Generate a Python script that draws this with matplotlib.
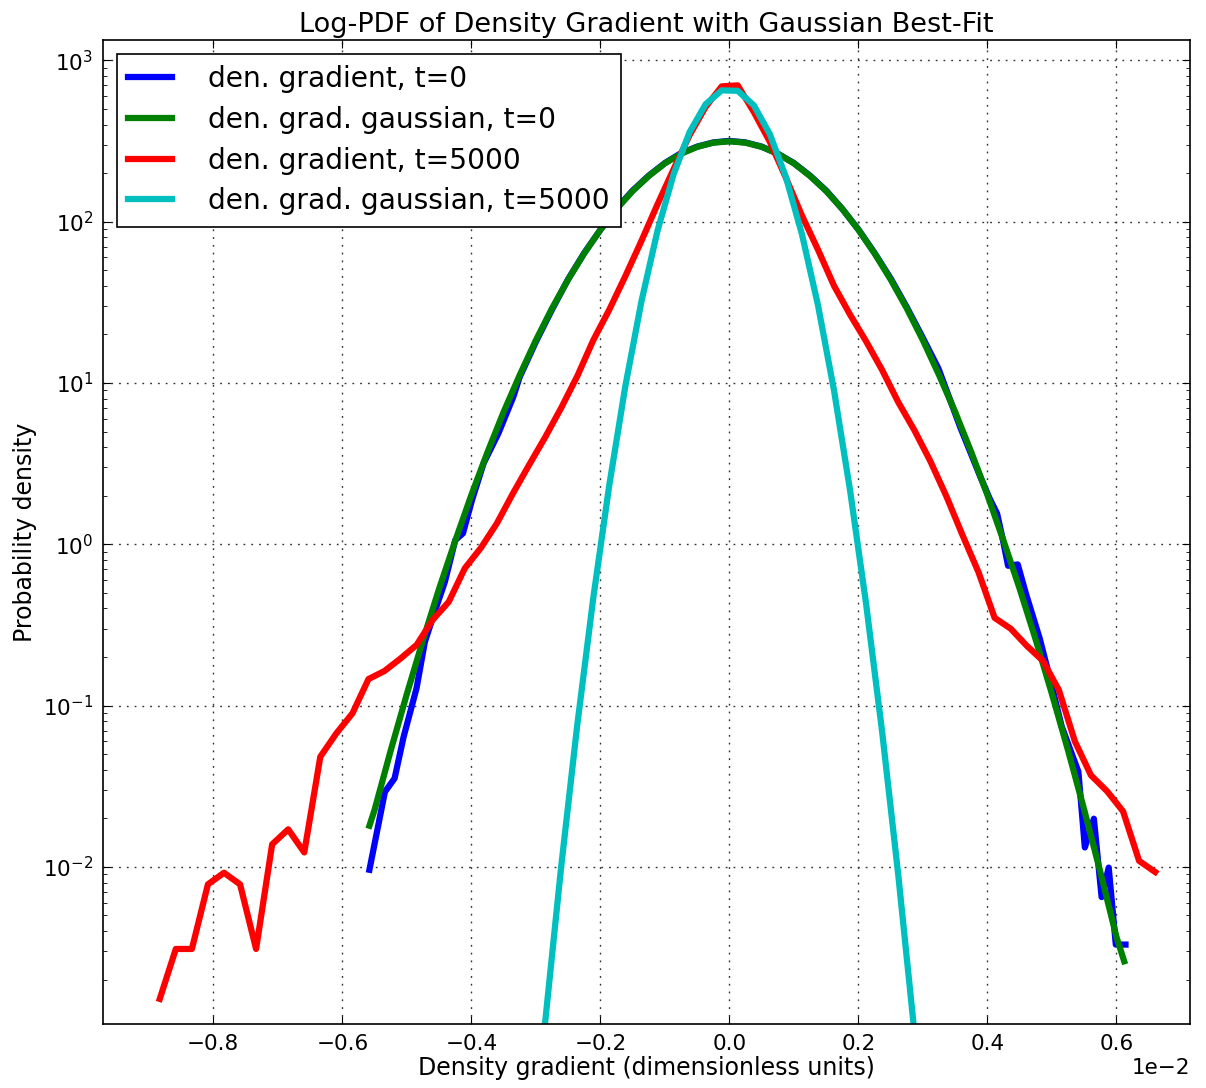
import numpy as np
import matplotlib
matplotlib.use("Agg")
import matplotlib.pyplot as plt

# x values below are in units of 1e-2 (the axis offset)
XSCALE = 1e-2

# den. gradient, t=0 (histogram)
blue_x = [-0.558, -0.534, -0.519, -0.505, -0.485, -0.472, -0.456, -0.441, -0.425,
          -0.413, -0.399, -0.381, -0.358, -0.335, -0.325, -0.30, -0.275, -0.25,
          -0.225, -0.20, -0.175, -0.15, -0.125, -0.10, -0.075, -0.05, -0.025, 0.0,
          0.025, 0.05, 0.075, 0.10, 0.125, 0.15, 0.175, 0.20, 0.225, 0.25, 0.275,
          0.30, 0.324, 0.358, 0.389, 0.404, 0.415, 0.423, 0.432, 0.447, 0.460,
          0.481, 0.497, 0.515, 0.541, 0.551, 0.565, 0.577, 0.588, 0.599, 0.614]
blue_y = [0.0096, 0.0292, 0.0354, 0.064, 0.128, 0.249, 0.39, 0.586, 1.06,
          1.17, 1.88, 3.18, 4.88, 8.2, 10.9, 18.0, 28.5, 44.0,
          64.0, 89.0, 121.0, 156.0, 193.0, 231.0, 266.0, 292.0, 310.0, 317.0,
          310.0, 292.0, 264.0, 231.0, 193.0, 156.0, 120.0, 89.5, 64.0, 44.5, 29.5,
          19.0, 12.3, 5.3, 2.62, 1.9, 1.55, 1.11, 0.736, 0.75, 0.489,
          0.261, 0.147, 0.0746, 0.0389, 0.0132, 0.0199, 0.0065, 0.0099, 0.0033, 0.0033]

# den. grad. gaussian, t=0
green_x = [-0.558, -0.550, -0.525, -0.500, -0.475, -0.450, -0.425, -0.400, -0.375,
           -0.350, -0.325, -0.300, -0.275, -0.250, -0.225, -0.200, -0.175, -0.150,
           -0.125, -0.100, -0.075, -0.050, -0.025, 0.0, 0.025, 0.050, 0.075, 0.100,
           0.125, 0.150, 0.175, 0.200, 0.225, 0.250, 0.275, 0.300, 0.325, 0.350,
           0.375, 0.400, 0.425, 0.450, 0.475, 0.500, 0.525, 0.550, 0.575, 0.600,
           0.612]
green_y = [0.018, 0.0226, 0.0527, 0.118, 0.255, 0.530, 1.05, 2.02, 3.72,
           6.61, 11.2, 18.4, 29.0, 43.8, 63.7, 89.1, 120.0, 155.0,
           192.0, 230.0, 264.0, 291.0, 309.0, 315.0, 309.0, 291.0, 264.0, 230.0,
           192.0, 155.0, 120.0, 89.1, 63.7, 43.8, 29.0, 18.4, 11.2, 6.61,
           3.72, 2.02, 1.05, 0.530, 0.255, 0.118, 0.0527, 0.0226, 0.0093, 0.00368,
           0.0026]

# den. gradient, t=5000 (63 evenly spaced bins)
red_x = np.linspace(-0.883, 0.660, 63)
red_y = [1.52e-3, 3.10e-3, 3.10e-3, 7.80e-3, 9.2e-3, 7.80e-3, 3.10e-3, 0.0138,
         0.0171, 0.0123, 0.0482, 0.0673, 0.0895, 0.146, 0.164, 0.196, 0.238,
         0.34, 0.44, 0.71, 0.95, 1.35, 2.07, 3.1, 4.6, 7.0, 11.0, 18.4, 28.5,
         46.0, 76.0, 128.0, 211.0, 344.0, 515.0, 690.0, 700.0, 479.0, 313.0,
         187.0, 109.0, 67.0, 40.0, 26.5, 18.1, 12.0, 7.6, 5.1, 3.27, 1.98, 1.14,
         0.67, 0.35, 0.30, 0.235, 0.19, 0.125, 0.06, 0.037, 0.0295, 0.0221,
         0.0109, 0.0093]

# den. grad. gaussian, t=5000 (same bins as t=5000 histogram, bins 23..48)
cyan_x = red_x[23:49]
cyan_y = [9.5e-5, 1.08e-3, 9.98e-3, 0.0752, 0.463, 2.33, 9.57, 32.0, 87.7,
          196.0, 359.0, 535.0, 652.0, 648.0, 527.0, 349.0, 189.0, 83.6, 30.3,
          8.95, 2.15, 0.424, 0.068, 8.9e-3, 9.5e-4, 8.3e-5]

labels = ["den. gradient, t=0", "den. grad. gaussian, t=0",
          "den. gradient, t=5000", "den. grad. gaussian, t=5000"]
xtick_vals = [-0.8, -0.6, -0.4, -0.2, 0.0, 0.2, 0.4, 0.6]
ytick_vals = [1e-2, 1e-1, 1e0, 1e1, 1e2, 1e3]

plt.rcParams["font.family"] = ["DejaVu Sans"]
plt.rcParams["xtick.direction"] = "in"
plt.rcParams["ytick.direction"] = "in"
plt.rcParams["xtick.top"] = True
plt.rcParams["ytick.right"] = True
plt.rcParams["xtick.major.size"] = 6
plt.rcParams["ytick.major.size"] = 6
plt.rcParams["ytick.minor.size"] = 3
plt.rcParams["xtick.major.pad"] = 7
plt.rcParams["ytick.major.pad"] = 7
plt.rcParams["axes.linewidth"] = 1.2

fig = plt.figure(figsize=(12.06, 10.88), dpi=100)
ax = fig.add_axes([103 / 1206, 1 - 1024 / 1088, 1087 / 1206, 984 / 1088])

lw = 4.5
ax.plot(np.array(blue_x) * XSCALE, blue_y, color="b", lw=lw, label=labels[0])
ax.plot(np.array(green_x) * XSCALE, green_y, color="g", lw=lw, label=labels[1])
ax.plot(np.array(red_x) * XSCALE, red_y, color="r", lw=lw, label=labels[2])
ax.plot(np.array(cyan_x) * XSCALE, cyan_y, color="c", lw=lw, label=labels[3])

ax.set_yscale("log")
ax.set_yticks(ytick_vals)
ax.set_xlim(-0.971 * XSCALE, 0.714 * XSCALE)
ax.set_ylim(1.062e-3, 1338)
ax.set_xticks(np.array(xtick_vals) * XSCALE)
# fix the offset at 1e-2 like the original
ax.ticklabel_format(axis="x", style="sci", scilimits=(-2, -2))
ax.tick_params(labelsize=15.5)
ax.xaxis.get_offset_text().set_fontsize(15.5)

ax.grid(True, which="major", linestyle=(0, (1.3, 4.3)), color="#333333",
        linewidth=1.0)

ax.set_title("Log-PDF of Density Gradient with Gaussian Best-Fit", fontsize=19.5)
ax.set_xlabel("Density gradient (dimensionless units)", fontsize=17, labelpad=2)
ax.set_ylabel("Probability density", fontsize=17)

leg = ax.legend(loc="upper left", fontsize=20.25, fancybox=False, framealpha=1,
                edgecolor="black", handlelength=1.55, handletextpad=1.28,
                labelspacing=0.45, borderaxespad=0.5, borderpad=0.4)
leg.get_frame().set_linewidth(1.2)

fig.savefig("out.png", dpi=100, facecolor="white")
